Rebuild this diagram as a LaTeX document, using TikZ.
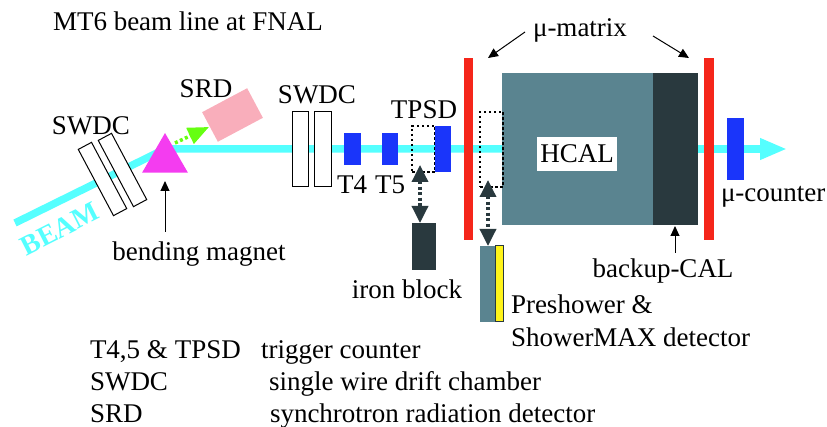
\documentclass[tikz,border=0pt]{standalone}
\usepackage{fontspec}
\setmainfont{Liberation Serif}
\usetikzlibrary{arrows.meta,shapes.geometric}
\pgfdeclarelayer{back}
\pgfsetlayers{back,main}
\definecolor{beamc}{HTML}{55FFFF}
\definecolor{cal}{HTML}{5A8490}
\definecolor{darkc}{HTML}{29393E}
\definecolor{redc}{HTML}{F5261A}
\definecolor{bluec}{HTML}{1A35FA}
\definecolor{magc}{HTML}{F43CF0}
\definecolor{pinkc}{HTML}{F9AEBB}
\definecolor{greenc}{HTML}{66FF11}
\definecolor{yellowc}{HTML}{FFF41A}
\tikzset{
  x=1pt,y=-1pt,
  shp/.style={inner sep=0pt,outer sep=0pt,rectangle},
  chamber/.style={shp,draw=black,fill=white,line width=1pt},
  dotbox/.style={shp,draw=black,line width=1.1pt,dash pattern=on 2.5pt off 2.5pt},
  solidblue/.style={shp,fill=bluec},
  redbar/.style={shp,fill=redc},
  lab/.style={inner sep=0pt,outer sep=0pt,anchor=base,font=\fontsize{27}{30}\selectfont},
  labl/.style={lab,anchor=base west},
  beamline/.style={draw=beamc,line width=7.5pt},
  pointer/.style={draw=black,line width=1pt,-{Triangle[length=10pt,width=9pt]}},
  move/.style={draw=darkc,line width=3.5pt,dash pattern=on 3pt off 2.5pt,
    {Triangle[length=17pt,width=16pt]}-{Triangle[length=17pt,width=16pt]}},
}
\newcommand{\bx}[6]{\node[#1,minimum width=#5-#3,minimum height=#6-#4] (#2) at ({(#3+#5)/2},{(#4+#6)/2}) {};}
\begin{document}
\begin{tikzpicture}
\useasboundingbox (0,0) rectangle (827,427);
% detectors
\bx{chamber}{swa}{292}{112}{308}{187}
\bx{chamber}{swb}{314}{112}{331}{187}
\bx{solidblue}{tfour}{344}{133}{361}{165}
\bx{solidblue}{tfive}{382}{133}{398}{165}
\bx{dotbox}{tpsdpos}{412}{126}{435}{172}
\bx{solidblue}{tpsd}{435}{126}{451}{172}
\bx{redbar}{redl}{464}{58}{473}{240}
\bx{shp,fill=cal}{hcal}{502}{73}{653}{225}
\bx{dotbox}{prepos}{480}{112}{503}{187}
\bx{shp,fill=darkc}{backup}{653}{73}{698}{225}
\bx{redbar}{redr}{704}{58}{714}{240}
\bx{solidblue}{mucnt}{727}{118}{744}{180}
\bx{shp,fill=darkc}{iron}{412}{223}{436}{270}
\bx{shp,fill=cal}{pre}{480}{246}{495}{322}
\bx{shp,fill=yellowc,draw=darkc,line width=1pt}{smax}{495}{246}{503}{322}
\node[chamber,minimum width=15pt,minimum height=75pt,rotate=28] (swc) at (102.5,179) {};
\node[chamber,minimum width=15pt,minimum height=75pt,rotate=28] (swd) at (122.5,170) {};
\node[shp,fill=pinkc,minimum width=51pt,minimum height=33.5pt,rotate=28] (srd) at (232.5,115) {};
\node[regular polygon,regular polygon sides=3,fill=magc,inner sep=0pt,outer sep=0pt,minimum size=53pt] (magnet) at (165,159.5) {};
% beam
\coordinate (beamstart) at (15,223);
\coordinate (knee) at (165,149);
\coordinate (beamend) at (787,149);
\begin{pgfonlayer}{back}
\draw[beamline,line join=round] (beamstart) -- (knee) -- (hcal.west);
\draw[beamline,-{Triangle[length=27pt,width=20pt]}] (backup.east) -- (beamend);
\end{pgfonlayer}
% labels
\node[labl] (title) at (53,31) {MT6 beam line at FNAL};
\node[lab] (lswa) at (91,135) {SWDC};
\node[lab] (lsrd) at (206,98) {SRD};
\node[lab] (lswb) at (317,104) {SWDC};
\node[lab] (ltpsd) at (424,119) {TPSD};
\node[lab] (ltf) at (352,194) {T4};
\node[lab] (ltv) at (390,194) {T5};
\node[lab] (lbend) at (199,261) {bending magnet};
\node[lab] (liron) at (407,299) {iron block};
\node[shp,fill=white,minimum width=80pt,minimum height=34pt,font=\fontsize{27}{30}\selectfont] (lhcal) at (577,154) {HCAL};
\node[lab] (lmu) at (580,37) {μ-matrix};
\node[labl] (lmuc) at (721,202) {μ-counter};
\node[lab] (lback) at (663,278) {backup-CAL};
\node[labl] (lpre) at (511,314) {Preshower \&};
\node[labl] (lsm) at (511,347) {ShowerMAX detector};
\node[labl] (la1) at (90,359) {T4,5 \& TPSD};
\node[labl] (la2) at (261,359) {trigger counter};
\node[labl] (lb1) at (90,390) {SWDC};
\node[labl] (lb2) at (269,390) {single wire drift chamber};
\node[labl] (lc1) at (90,422) {SRD};
\node[labl] (lc2) at (270,422) {synchrotron radiation detector};
\node[lab,text=beamc,font=\fontsize{28}{30}\selectfont\bfseries,rotate=27] (lbeam) at (64,237) {BEAM};
% connectors
\coordinate (bendtail) at (165,232);
\coordinate (bendtip) at (165,181);
\draw[pointer] (bendtail) -- (bendtip);
\coordinate (muat) at (525,32);
\coordinate (mual) at (488,58);
\coordinate (mubt) at (653,36);
\coordinate (mubr) at (689,58);
\draw[pointer] (muat) -- (mual);
\draw[pointer] (mubt) -- (mubr);
\coordinate (backtail) at (675,253);
\coordinate (backtip) at (675,226);
\draw[pointer] (backtail) -- (backtip);
\coordinate (gt) at (175,143);
\coordinate (gh) at (209,127);
\draw[draw=greenc,line width=3.5pt,dash pattern=on 3pt off 2.5pt,-{Triangle[length=21pt,width=17pt]}] (gt) -- (gh);
\coordinate (ma) at (420,165);
\coordinate (mb) at (420,223);
\draw[move] (ma) -- (mb);
\coordinate (mc) at (488,180);
\coordinate (md) at (488,246);
\draw[move] (mc) -- (md);
\end{tikzpicture}
\end{document}
